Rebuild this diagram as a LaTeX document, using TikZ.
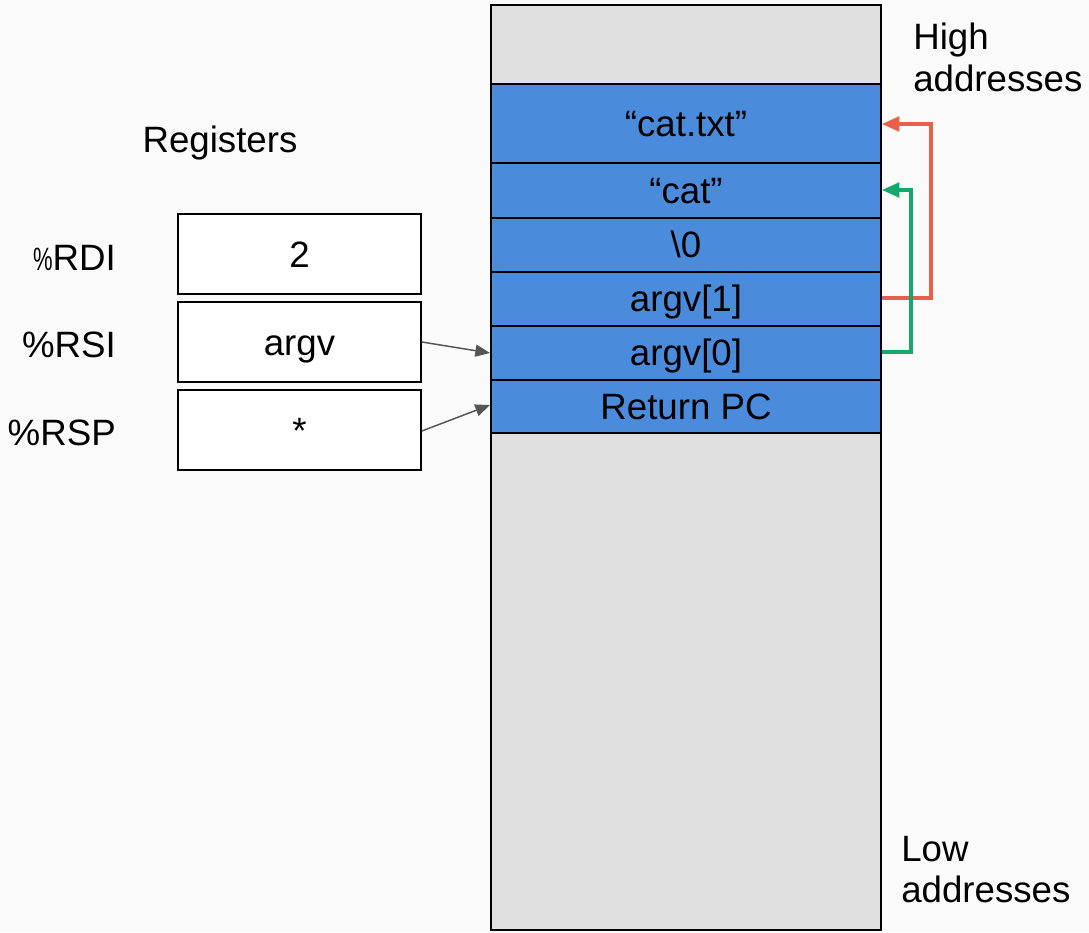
\documentclass[tikz,border=0pt]{standalone}
\usepackage{fontspec}
\setmainfont{Liberation Sans}
\usetikzlibrary{arrows.meta}
\definecolor{bg}{HTML}{FAFAFA}
\definecolor{slot}{HTML}{4A8BDC}
\definecolor{stackgray}{HTML}{E0E0E0}
\definecolor{redarr}{HTML}{E8604A}
\definecolor{greenarr}{HTML}{14A86A}
\definecolor{ptrgray}{HTML}{555555}
\begin{document}
\begin{tikzpicture}[x=0.75pt,y=-0.75pt,
  bigfont/.style={font=\fontsize{27.5}{31}\selectfont},
  txt/.style={bigfont, inner sep=0pt},
  regbox/.style={draw=black, line width=1.3pt, fill=white, minimum width=243*0.75pt, minimum height=80*0.75pt, inner sep=0pt, bigfont, text height=19.8pt, text depth=0pt},
  slotbox/.style={draw=black, line width=1.5pt, fill=slot, minimum width=390*0.75pt, inner sep=0pt, bigfont, text height=19.8pt, text depth=1pt},
  ptr/.style={draw=ptrgray, line width=1.1pt, -{Triangle[length=11pt,width=9pt]}},
  link/.style={line width=2.4pt, line join=miter}
]
\fill[bg] (0,0) rectangle (1089,932);
\useasboundingbox (0,0) rectangle (1089,932);
% stack
\node[draw=black, line width=1.5pt, fill=stackgray, minimum width=390*0.75pt, minimum height=925*0.75pt, inner sep=0pt] (stack) at (686,467.5) {};
\node[slotbox, minimum height=79*0.75pt] (s1) at (686,123.5) {“cat.txt”};
\node[slotbox, minimum height=55*0.75pt] (s2) at (686,190.5) {“cat”};
\node[slotbox, minimum height=54*0.75pt] (s3) at (686,245) {\textbackslash 0};
\node[slotbox, minimum height=54*0.75pt] (s4) at (686,299) {argv[1]};
\node[slotbox, minimum height=54*0.75pt] (s5) at (686,353) {argv[0]};
\node[slotbox, minimum height=53*0.75pt] (s6) at (686,406.5) {Return PC};
% labels
\node[txt, align=left, anchor=north west] (hi) at (913,23) {High\\addresses};
\node[txt, align=left, anchor=north west] (lo) at (901,836) {Low\\addresses};
\node[txt] (regs) at (220,143) {Registers};
% registers
\node[regbox] (rdi) at (299.5,254) {2};
\node[regbox] (rsi) at (299.5,342) {argv};
\node[regbox] (rsp) at (299.5,430) {*};
\node[txt, anchor=base east] (lrdi) at (116,270) {\scalebox{0.6}[0.88]{\%}RDI};
\node[txt, anchor=base east] (lrsi) at (116,357) {\%RSI};
\node[txt, anchor=base east] (lrsp) at (116,445) {\%RSP};
% pointer arrows
\draw[ptr] (rsi.east |- 0,342) -- (s5.west |- 0,353);
\draw[ptr] (rsp.east |- 0,431) -- (s6.west |- 0,405);
% argv links
\coordinate (r1) at (931,298);
\coordinate (r2) at (931,124);
\draw[link, draw=redarr, -{Triangle[length=13pt,width=11pt,fill=redarr]}] (s4.east |- r1) -- (r1) -- (r2) -- (s1.east |- r2);
\coordinate (g1) at (911,352);
\coordinate (g2) at (911,190);
\draw[link, draw=greenarr, -{Triangle[length=13pt,width=11pt,fill=greenarr]}] (s5.east |- g1) -- (g1) -- (g2) -- (s2.east |- g2);
\end{tikzpicture}
\end{document}
